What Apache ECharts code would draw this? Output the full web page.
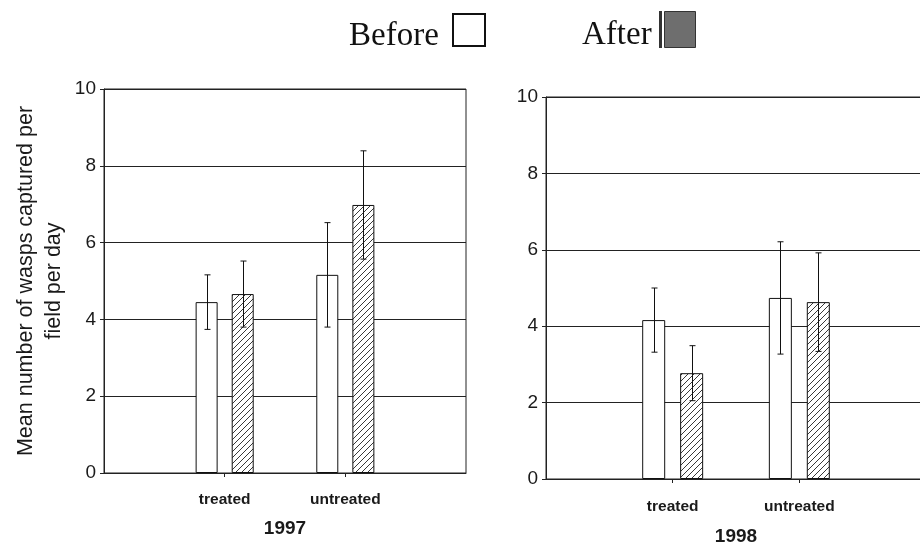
<!DOCTYPE html>
<html>
<head>
<meta charset="utf-8">
<script src="https://cdn.jsdelivr.net/npm/echarts@6/dist/echarts.min.js"></script>
<style>
  html, body { margin: 0; padding: 0; background: #fff; }
  #chart { width: 920px; height: 543px; }
</style>
</head>
<body>
<div id="chart"></div>
<script>
// Wasp captures per field per day, before and after, by treatment and year
const categories = ['treated', 'untreated'];
const seriesNames = ['Before', 'After'];
const yTicks = [0, 2, 4, 6, 8, 10];

const before1997 = [4.45, 5.16];
const before1997Err = [0.71, 1.36];
const after1997 = [4.66, 6.98];
const after1997Err = [0.86, 1.41];

const before1998 = [4.16, 4.74];
const before1998Err = [0.84, 1.47];
const after1998 = [2.77, 4.63];
const after1998Err = [0.72, 1.29];

// empty slots at both ends keep the two groups off the plot edges
const axisCats = [''].concat(categories, ['']);
const pad = arr => ['-'].concat(arr, ['-']);

// diagonal hatch fill
function hatchCanvas() {
  const s = 6;
  const c = document.createElement('canvas');
  c.width = s; c.height = s;
  const g = c.getContext('2d');
  g.fillStyle = '#fff';
  g.fillRect(0, 0, s, s);
  g.strokeStyle = '#222';
  g.lineWidth = 0.9;
  g.beginPath();
  g.moveTo(0, s); g.lineTo(s, 0);
  g.moveTo(-1, 1); g.lineTo(1, -1);
  g.moveTo(s - 1, s + 1); g.lineTo(s + 1, s - 1);
  g.stroke();
  return c;
}
const hatch = { image: hatchCanvas(), repeat: 'repeat' };

function errorBars(idx, means, errs, offset) {
  return {
    type: 'custom',
    xAxisIndex: idx,
    yAxisIndex: idx,
    z: 5,
    silent: true,
    data: means.map((m, i) => [i + 1, m - errs[i], m + errs[i]]),
    renderItem: function (params, api) {
      const hi = api.coord([api.value(0), api.value(2)]);
      const lo = api.coord([api.value(0), api.value(1)]);
      const x = Math.round(hi[0] + offset) + 0.5;
      const st = { stroke: '#111', lineWidth: 1 };
      return {
        type: 'group',
        children: [
          { type: 'line', shape: { x1: x, y1: hi[1], x2: x, y2: lo[1] }, style: st },
          { type: 'line', shape: { x1: x - 3, y1: hi[1], x2: x + 3, y2: hi[1] }, style: st },
          { type: 'line', shape: { x1: x - 3, y1: lo[1], x2: x + 3, y2: lo[1] }, style: st }
        ]
      };
    }
  };
}

const sans = 'Liberation Sans, Arial, sans-serif';
const serif = 'Liberation Serif, Times New Roman, serif';

function xAxis(idx, year, labelMargin, nameGap) {
  return {
    gridIndex: idx,
    type: 'category',
    data: axisCats,
    boundaryGap: false,
    name: year,
    nameLocation: 'middle',
    nameGap: nameGap,
    nameTextStyle: { fontFamily: sans, fontWeight: 'bold', fontSize: 19, color: '#1a1a1a' },
    axisLine: { show: true, lineStyle: { color: '#222', width: 1 } },
    axisTick: { show: true, length: 4, interval: (i, v) => v !== '', lineStyle: { color: '#222' } },
    axisLabel: { margin: labelMargin, fontFamily: sans, fontWeight: 'bold', fontSize: 15.5, color: '#1a1a1a', interval: 0 },
    splitLine: { show: false }
  };
}

function yAxis(idx, name) {
  return {
    gridIndex: idx,
    type: 'value',
    min: yTicks[0],
    max: yTicks[yTicks.length - 1],
    interval: yTicks[1] - yTicks[0],
    name: name,
    nameLocation: 'middle',
    nameRotate: 90,
    nameGap: 36,
    nameTextStyle: { fontFamily: sans, fontSize: 21.5, color: '#1a1a1a', lineHeight: 28, align: 'center' },
    axisLine: { show: true, lineStyle: { color: '#222', width: 1 } },
    axisTick: { show: true, length: 4, lineStyle: { color: '#222' } },
    axisLabel: { margin: 8, fontFamily: sans, fontSize: 19, color: '#1a1a1a' },
    splitLine: { show: true, lineStyle: { color: '#222', width: 1 } }
  };
}

function bars(idx, name, values, width, gap, fill) {
  return {
    type: 'bar',
    name: name,
    xAxisIndex: idx,
    yAxisIndex: idx,
    data: pad(values),
    barWidth: width,
    barGap: gap,
    z: 3,
    itemStyle: { color: fill, borderColor: '#111', borderWidth: 1 },
    emphasis: { disabled: true }
  };
}

// key drawn above both panels: label followed by its swatch
const keyFont = '33px ' + serif;
const key = [
  {
    type: 'group',
    children: [
      { type: 'text', x: 349, y: 36.5, style: { text: seriesNames[0], font: keyFont, fill: '#111', align: 'left', verticalAlign: 'middle' } },
      { type: 'rect', shape: { x: 453, y: 14, width: 32, height: 32 }, style: { fill: '#fff', stroke: '#111', lineWidth: 2 } }
    ]
  },
  {
    type: 'group',
    children: [
      { type: 'text', x: 582, y: 35.5, style: { text: seriesNames[1], font: keyFont, fill: '#111', align: 'left', verticalAlign: 'middle' } },
      { type: 'rect', shape: { x: 659, y: 11, width: 3, height: 37 }, style: { fill: '#333' } },
      { type: 'rect', shape: { x: 664.5, y: 11.5, width: 31, height: 36 }, style: { fill: '#6e6e6e', stroke: '#333', lineWidth: 1 } }
    ]
  }
];

const chart = echarts.init(document.getElementById('chart'), null, { renderer: 'canvas' });
chart.setOption({
  animation: false,
  backgroundColor: '#fff',
  graphic: key,
  grid: [
    { left: 104, top: 89, width: 362, bottom: 70, outerBoundsMode: 'none', show: true, borderColor: '#222', borderWidth: 1, backgroundColor: 'transparent' },
    { left: 546, top: 97, width: 380, bottom: 64, outerBoundsMode: 'none', show: true, borderColor: '#222', borderWidth: 1, backgroundColor: 'transparent' }
  ],
  xAxis: [xAxis(0, '1997', 19, 46), xAxis(1, '1998', 20, 48)],
  yAxis: [yAxis(0, 'Mean number of wasps captured per\nfield per day'), Object.assign(yAxis(1, ''), { name: '' })],
  series: [
    bars(0, seriesNames[0], before1997, 22, '64%', '#fff'),
    bars(0, seriesNames[1], after1997, 22, '64%', hatch),
    bars(1, seriesNames[0], before1998, 23, '65%', '#fff'),
    bars(1, seriesNames[1], after1998, 23, '65%', hatch),
    errorBars(0, before1997, before1997Err, -18),
    errorBars(0, after1997, after1997Err, 18),
    errorBars(1, before1998, before1998Err, -19),
    errorBars(1, after1998, after1998Err, 19)
  ]
});
</script>
</body>
</html>
